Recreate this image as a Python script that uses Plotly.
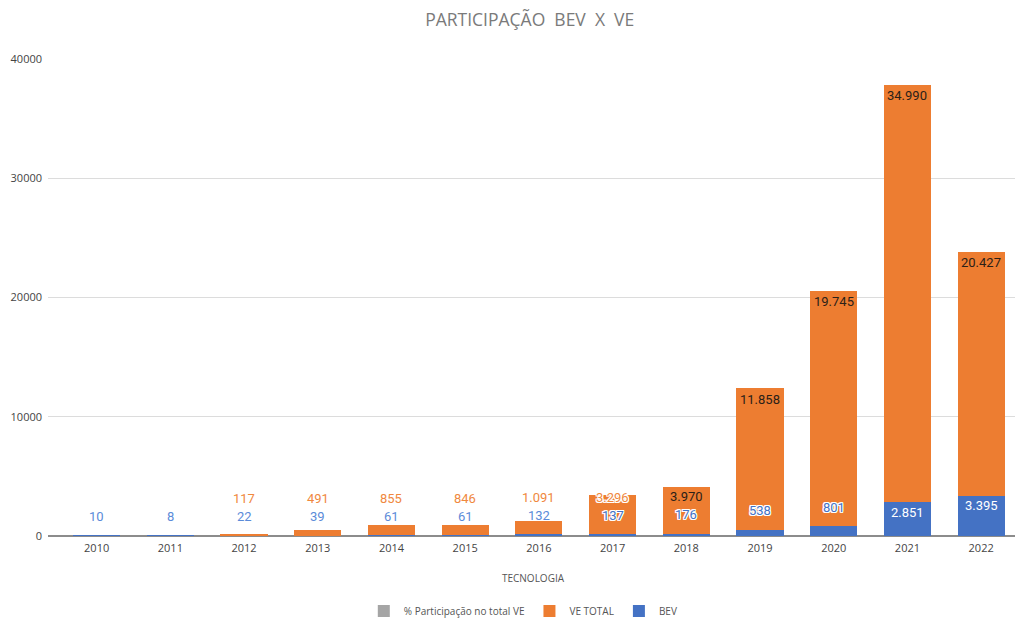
import plotly.graph_objects as go

# data
years = ["2010", "2011", "2012", "2013", "2014", "2015", "2016",
         "2017", "2018", "2019", "2020", "2021", "2022"]
bev = [10, 8, 22, 39, 61, 61, 132, 137, 176, 538, 801, 2851, 3395]
ve_total = [None, None, 117, 491, 855, 846, 1091, 3296, 3970, 11858, 19745, 34990, 20427]
pct_ve = [None] * len(years)  # legend only, not visible at this scale

ORANGE = "#ED7D31"
BLUE = "#4472C4"
GRAY = "#A5A5A5"

Y_MAX = 40000
PLOT_H = 477
K = PLOT_H / Y_MAX  # px per unit


def fmt(v):
    return f"{v:,}".replace(",", ".")


def label(i, y, shift, text, color, outline=False):
    out = []
    if outline:
        for dx, dy in [(1, 1), (-1, -1), (1, -1), (-1, 1), (1, 0), (-1, 0), (0, 1), (0, -1)]:
            out.append(dict(x=i, y=y, xshift=dx, yshift=shift + dy, text=text,
                            showarrow=False, xref="x", yref="y", yanchor="middle",
                            font=dict(color="white", size=13, family="Roboto")))
    out.append(dict(x=i, y=y, yshift=shift, text=text, showarrow=False,
                    xref="x", yref="y", yanchor="middle",
                    font=dict(color=color, size=13, family="Roboto")))
    return out


fig = go.Figure()
fig.add_trace(go.Bar(x=years, y=bev, name="BEV", marker_color=BLUE,
                     marker_line_width=0))
fig.add_trace(go.Bar(x=years, y=ve_total, name="VE TOTAL", marker_color=ORANGE,
                     marker_line_width=0))
fig.add_trace(go.Bar(x=years, y=pct_ve, name="% Participação no total VE",
                     marker_color=GRAY, marker_line_width=0))

# data labels, placed like the spreadsheet does
annotations = []
for i, (b, v) in enumerate(zip(bev, ve_total)):
    hb_top = b * K
    total = b + (v or 0)
    ht = total * K
    if hb_top > 22:
        hb = hb_top - 10
        annotations += label(i, b, hb - hb_top, fmt(b), "white")
    else:
        hb = hb_top + 19
        over_bar = bool(v) and ht > hb + 5
        annotations += label(i, b, hb - hb_top, fmt(b),
                             BLUE if over_bar else "#5B8BD9", outline=over_bar)
    if v:
        cand = ht - 11 if v * K > 22 else ht + 12
        ho = max(cand, hb + 18)
        if ho >= ht:
            annotations += label(i, total, ho - ht, fmt(v), "#F0883E")
        elif ho + 7 > ht:
            annotations += label(i, total, ho - ht, fmt(v), "#F0883E", outline=True)
        else:
            annotations += label(i, total, ho - ht, fmt(v), "#2b2118")

fig.update_layout(
    width=1015, height=611,
    barmode="stack", bargap=0.36,
    plot_bgcolor="white", paper_bgcolor="white",
    margin=dict(l=40, r=5, t=51, b=83, autoexpand=False),
    title=dict(text="PARTICIPAÇÃO\u00a0\u00a0BEV\u00a0\u00a0X\u00a0\u00a0VE",
               x=0.514, xanchor="center", y=0.980, yanchor="middle",
               font=dict(family="Open Sans", size=17.5, color="#7a7a7a")),
    font=dict(family="Open Sans", color="#444"),
    legend=dict(orientation="h", x=0.49, xanchor="center", y=-0.157, yanchor="middle",
                traceorder="reversed", font=dict(size=10, color="#555"),
                itemwidth=30),
    annotations=annotations,
)
fig.update_xaxes(type="category", range=[-0.66, 12.5], showgrid=False, showline=False,
                 ticks="", tickfont=dict(size=11, color="#444"), automargin=False,
                 ticklabelstandoff=4,
                 title=dict(text="TECNOLOGIA", standoff=20,
                            font=dict(size=10, color="#555")))
fig.update_yaxes(range=[0, Y_MAX], dtick=10000, tickformat="d",
                 showgrid=True, gridcolor="#dcdcdc", gridwidth=1,
                 zeroline=True, zerolinecolor="#8c8c8c", zerolinewidth=1.5,
                 ticklabelstandoff=5,
                 tickfont=dict(size=11, color="#444"), automargin=False)

fig.write_html("out.html")
